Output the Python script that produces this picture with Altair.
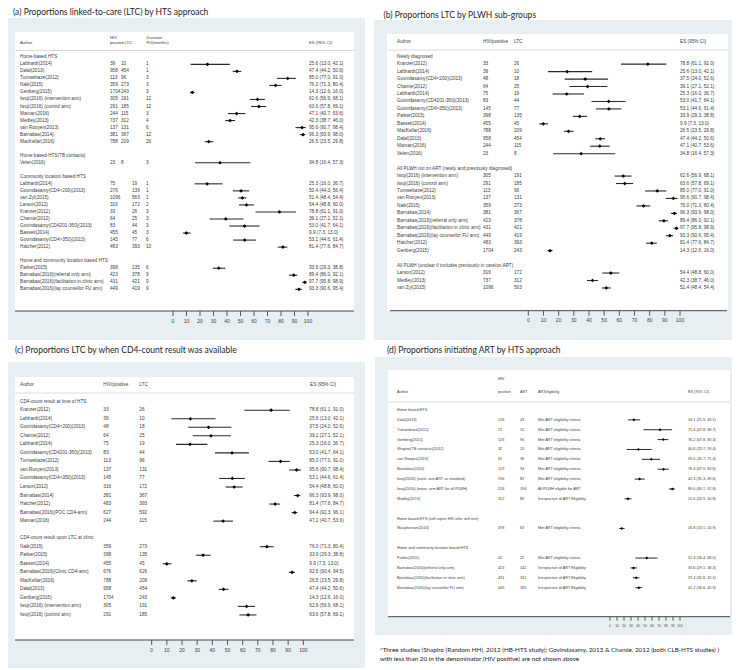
import altair as alt
import pandas as pd

# ---------------- (a) Proportions linked-to-care by HTS approach ----------------
A_SECTIONS = ["Home based HTS", "Home based-HTS(TB contacts)",
              "Community location based HTS", "Home and community location based HTS"]
A_SIZES = [12, 1, 10, 4]
A_AUTHOR = ["Labhardt(2014)", "Dalal(2013)", "Tumwebaze(2012)", "Naik(2015)", "Genberg(2015)",
            "Iwuji(2016) (intervention arm)", "Iwuji(2016) (control arm)", "Maman(2016)", "Medley(2013)",
            "van Rooyen(2013)", "Barnabas(2014)", "MacKellar(2016)",
            "Velen(2016)",
            "Labhardt(2014)", "Govindasamy(CD4<200)(2013)", "van Zyl(2015)", "Larson(2012)", "Kranzer(2012)",
            "Chamie(2012)", "Govindasamy(CD4201-350)(2013)", "Bassett(2014)", "Govindasamy(CD4>350)(2013)",
            "Hatcher(2012)",
            "Parker(2015)", "Barnabas(2016)(referral only arm)", "Barnabas(2016)(facilitation in clinic arm)",
            "Barnabas(2016)(lay counsellor FU arm)"]
A_HIV = [39, 958, 113, 359, 1704, 305, 291, 244, 737, 137, 381, 788, 23, 75, 276, 1096, 316, 33, 64, 83,
         455, 145, 483, 398, 423, 431, 449]
A_LTC = [10, 454, 96, 273, 243, 191, 185, 115, 312, 131, 367, 209, 8, 19, 139, 563, 172, 26, 25, 44,
         45, 77, 393, 135, 378, 421, 419]
A_DUR = [1, 1, 3, 3, 3, 12, 12, 3, 4, 6, 12, 26, 3, 1, 1, 1, 2, 3, 3, 3, 3, 6, 10, 6, 9, 9, 9]
A_ES = [25.6, 47.4, 85.0, 76.0, 14.3, 62.6, 63.6, 47.1, 42.3, 95.6, 96.3, 26.5, 34.8, 25.3, 50.4, 51.4,
        54.4, 78.8, 39.1, 53.0, 9.9, 53.1, 81.4, 33.9, 89.4, 97.7, 93.3]
A_LO = [13.0, 44.2, 77.0, 71.3, 12.6, 56.9, 57.8, 40.7, 38.7, 90.7, 93.9, 23.5, 16.4, 16.0, 44.3, 48.4,
        48.8, 61.1, 27.1, 41.7, 7.3, 44.6, 77.6, 29.3, 86.0, 95.8, 90.6]
A_HI = [42.1, 50.6, 91.0, 80.4, 16.0, 68.1, 69.1, 53.6, 46.0, 98.4, 98.0, 29.8, 57.3, 36.7, 56.4, 54.4,
        60.0, 91.0, 52.1, 64.1, 13.0, 61.4, 84.7, 38.8, 92.1, 98.9, 95.4]

# ---------------- (b) Proportions LTC by PLWH sub-groups ----------------
B_SECTIONS = ["Newly diagnosed", "All PLWH not on ART (newly and previously diagnosed)",
              "All PLWH (unclear if includes previously in care/on ART)"]
B_SIZES = [13, 11, 3]
B_AUTHOR = ["Kranzer(2012)", "Labhardt(2014)", "Govindasamy(CD4<200)(2013)", "Chamie(2012)", "Labhardt(2014)",
            "Govindasamy(CD4201-350)(2013)", "Govindasamy(CD4>350)(2013)", "Parker(2015)", "Bassett(2014)",
            "MacKellar(2016)", "Dalal(2013)", "Maman(2016)", "Velen(2016)",
            "Iwuji(2016) (intervention arm)", "Iwuji(2016) (control arm)", "Tumwebaze(2012)", "van Rooyen(2013)",
            "Naik(2015)", "Barnabas(2014)", "Barnabas(2016)(referral only arm)",
            "Barnabas(2016)(facilitation in clinic arm)", "Barnabas(2016)(lay counsellor FU arm)",
            "Hatcher(2012)", "Genberg(2015)",
            "Larson(2012)", "Medley(2013)", "van Zyl(2015)"]
B_HIV = [33, 39, 48, 64, 75, 83, 145, 398, 455, 788, 958, 244, 23, 305, 291, 113, 137, 359, 381, 423, 431,
         449, 483, 1704, 316, 737, 1096]
B_LTC = [26, 10, 18, 25, 19, 44, 77, 135, 45, 209, 454, 115, 8, 191, 185, 96, 131, 273, 367, 378, 421,
         419, 393, 243, 172, 312, 563]
B_ES = [78.8, 25.6, 37.5, 39.1, 25.3, 53.0, 53.1, 33.9, 9.9, 26.5, 47.4, 47.1, 34.8, 62.6, 63.6, 85.0,
        95.6, 76.0, 96.3, 89.4, 97.7, 93.3, 81.4, 14.3, 54.4, 42.3, 51.4]
B_LO = [61.1, 13.0, 24.0, 27.1, 16.0, 41.7, 44.6, 29.3, 7.3, 23.5, 44.2, 40.7, 16.4, 56.9, 57.8, 77.0,
        90.7, 71.3, 93.9, 86.0, 95.8, 90.6, 77.6, 12.6, 48.8, 38.7, 48.4]
B_HI = [91.0, 42.1, 52.6, 52.1, 36.7, 64.1, 61.4, 38.8, 13.0, 29.8, 50.6, 53.6, 57.3, 68.1, 69.1, 91.0,
        98.4, 80.4, 98.0, 92.1, 98.9, 95.4, 84.7, 16.0, 60.0, 46.0, 54.4]

# ---------------- (c) Proportions LTC by when CD4-count result was available ----------------
C_SECTIONS = ["CD4-count result at time of HTS", "CD4-count result upon LTC at clinic"]
C_SIZES = [14, 9]
C_AUTHOR = ["Kranzer(2012)", "Labhardt(2014)", "Govindasamy(CD4<200)(2013)", "Chamie(2012)", "Labhardt(2014)",
            "Govindasamy(CD4201-350)(2013)", "Tumwebaze(2012)", "van Rooyen(2013)", "Govindasamy(CD4>350)(2013)",
            "Larson(2012)", "Barnabas(2014)", "Hatcher(2012)", "Barnabas(2016)(POC CD4-arm)", "Maman(2016)",
            "Naik(2015)", "Parker(2015)", "Bassett(2014)", "Barnabas(2016)(Clinic CD4-arm)", "MacKellar(2016)",
            "Dalal(2013)", "Genberg(2015)", "Iwuji(2016) (intervention arm)", "Iwuji(2016) (control arm)"]
C_HIV = [33, 39, 48, 64, 75, 83, 113, 137, 145, 316, 381, 483, 627, 244, 359, 398, 455, 676, 788, 958,
         1704, 305, 291]
C_LTC = [26, 10, 18, 25, 19, 44, 96, 131, 77, 172, 367, 393, 592, 115, 273, 135, 45, 626, 209, 454,
         243, 191, 185]
C_ES = [78.8, 25.6, 37.5, 39.1, 25.3, 53.0, 85.0, 95.6, 53.1, 54.4, 96.3, 81.4, 94.4, 47.1, 76.0, 33.9,
        9.9, 92.6, 26.5, 47.4, 14.3, 62.6, 63.6]
C_LO = [61.1, 13.0, 24.0, 27.1, 16.0, 41.7, 77.0, 90.7, 44.6, 48.8, 93.9, 77.6, 92.3, 40.7, 71.3, 29.3,
        7.3, 90.4, 23.5, 44.2, 12.6, 56.9, 57.8]
C_HI = [91.0, 42.1, 52.6, 52.1, 36.7, 64.1, 91.0, 98.4, 61.4, 60.0, 98.0, 84.7, 96.1, 53.6, 80.4, 38.8,
        13.0, 94.5, 29.8, 50.6, 16.0, 68.1, 69.1]

# ---------------- (d) Proportions initiating ART by HTS approach ----------------
D_SECTIONS = ["Home based HTS", "Home based HTS (self-report HIV after self-test)",
              "Home and community location based HTS"]
D_SIZES = [9, 1, 4]
D_AUTHOR = ["Dalal(2013)", "Tumwebaze(2012)", "Genberg(2015)", "Shapiro(TB contacts)(2012)", "van Rooyen(2013)",
            "Barnabas(2014)", "Iwuji(2016) (contr. arm ART as standard)",
            "Iwuji(2016) (interv. arm ART for all PLWH)", "Medley(2013)",
            "Macpherson(2014)",
            "Parker(2015)", "Barnabas(2016)(referral only arm)", "Barnabas(2016)(facilitation in clinic arm)",
            "Barnabas(2016)(lay counsellor FU arm)"]
D_HIV = [126, 21, 126, 32, 61, 123, 196, 218, 312, 378, 42, 423, 431, 449]
D_ART = [43, 15, 96, 13, 36, 94, 83, 194, 80, 63, 22, 142, 161, 185]
D_ELIG = ["Met ART eligibility criteria", "Met ART eligibility criteria", "Met ART eligibility criteria",
          "Met ART eligibility criteria", "Met ART eligibility criteria", "Met ART eligibility criteria",
          "Met ART eligibility criteria", "All PLWH eligible for ART", "Irrespective of ART Eligibility",
          "Met ART eligibility criteria", "Met ART eligibility criteria", "Irrespective of ART Eligibility",
          "Irrespective of ART Eligibility", "Irrespective of ART Eligibility"]
D_ES = [34.1, 71.4, 76.2, 40.6, 59.0, 76.4, 42.3, 89.0, 25.6, 16.8, 52.4, 33.6, 37.4, 41.2]
D_LO = [25.9, 47.8, 67.8, 23.7, 45.7, 67.9, 35.3, 84.1, 20.9, 13.1, 36.4, 29.1, 32.8, 36.6]
D_HI = [43.1, 88.7, 83.3, 59.4, 71.4, 83.6, 49.6, 92.8, 30.8, 20.9, 68.0, 38.3, 42.1, 45.9]

TICKS = [0, 10, 20, 30, 40, 50, 60, 70, 80, 90, 100]

TITLES = ["(a)  Proportions linked-to-care (LTC) by HTS approach",
          "(b)  Proportions LTC by PLWH sub-groups",
          "(c)  Proportions LTC by when CD4-count result was available",
          "(d)  Proportions initiating ART by HTS approach"]
FOOTNOTE = ["*Three studies (Shapiro (Random HH), 2012 (HB-HTS study); Govindasamy, 2013 & Chamie, 2012 (both CLB-HTS studies) )",
            "with less than 20 in the denominator (HIV positive) are not shown above"]

# ---------------- helpers ----------------
ONE = pd.DataFrame({"k": [0]})
TXT = "#3c3c3c"
LIGHT = "#e8eff2"
TAB_FONT = "Liberation Sans"
TITLE_FONT = "Lato"


def fmt_int(v):
    return "" if pd.isna(v) else str(int(v))


def make_rows(sections, sizes, author, cols):
    recs = []
    r = 0
    i = 0
    for s, (name, k) in enumerate(zip(sections, sizes)):
        if s > 0:
            r += 1
        recs.append(dict(row=r, kind="group", sec=s, label=name))
        r += 1
        for _ in range(k):
            d = dict(row=r, kind="study", sec=s, label=author[i])
            for c, v in cols.items():
                d[c] = v[i]
            recs.append(d)
            r += 1
            i += 1
    df = pd.DataFrame(recs)
    for c in ["hiv", "ltc", "dur", "art"]:
        if c in df:
            df[c + "_t"] = df[c].map(fmt_int)
    if "elig" in df:
        df["elig"] = df["elig"].fillna("")
    df["es_t"] = [
        "" if k != "study" else f"{e:.1f} ({l:.1f}, {h:.1f})"
        for k, e, l, h in zip(df["kind"], df["es"], df["lo"], df["hi"])
    ]
    return df


def T(text, x, y, size, font=TAB_FONT, color=TXT, baseline="middle"):
    return alt.Chart(ONE).mark_text(align="left", baseline=baseline, fontSize=size, font=font,
                                    color=color).encode(x=alt.value(x), y=alt.value(y), text=alt.value(text))


def RECT(x1, x2, y1, y2, color):
    return alt.Chart(ONE).mark_rect(color=color).encode(
        x=alt.value(x1), x2=alt.value(x2), y=alt.value(y1), y2=alt.value(y2))


def HLINE(x1, x2, y, color, width):
    return alt.Chart(ONE).mark_rule(color=color, strokeWidth=width).encode(
        x=alt.value(x1), x2=alt.value(x2), y=alt.value(y))


def build_panel(df, cfg):
    ox, oy = cfg["origin"]
    W, H = cfg["size"]
    L = lambda v: v - ox
    Ly = lambda v: v - oy
    n = int(df["row"].max())
    xs = alt.Scale(domain=[0, 100], range=[L(cfg["x0"]), L(cfg["x100"])], nice=False, zero=False)
    ys = alt.Scale(domain=[0, n], range=[Ly(cfg["row0"]), Ly(cfg["row0"] + n * cfg["step"])],
                   nice=False, zero=False)
    lx1, lx2, ly1, ly2 = cfg["light"]
    wx1, wx2, wy1, wy2 = cfg["white"]
    layers = [
        RECT(max(0, L(lx1)), min(W, L(lx2)), Ly(ly1), Ly(ly2), LIGHT),
        RECT(L(wx1), min(W, L(wx2)), Ly(wy1), Ly(wy2), "white"),
        T(cfg["title"], L(cfg["title_xy"][0]), Ly(cfg["title_xy"][1]), cfg["title_size"],
          font=TITLE_FONT, color="#1e1e1e", baseline=cfg.get("title_baseline", "middle")),
        HLINE(L(wx1), min(W, L(wx2)), Ly(cfg["head_line"]), "#cfd3d6", 0.8),
    ]
    for text, x, y in cfg["header"]:
        layers.append(T(text, L(x), Ly(y), cfg["hfs"]))
    base = alt.Chart(df)
    Y = alt.Y("row:Q", scale=ys, axis=None)
    for field, x, filt in cfg["cols"]:
        c = base.mark_text(align="left", baseline="middle", fontSize=cfg["fs"], font=TAB_FONT,
                           color=TXT).encode(x=alt.value(L(x)), y=Y, text=alt.Text(f"{field}:N"))
        if filt:
            c = c.transform_filter(filt)
        layers.append(c)
    studies = base.transform_filter("datum.kind == 'study'")
    layers.append(studies.mark_rule(color="#2a2a2a", strokeWidth=cfg["lw"]).encode(
        x=alt.X("lo:Q", scale=xs, axis=None), x2="hi:Q", y=Y))
    layers.append(studies.mark_point(shape="diamond", filled=True, color="black", opacity=1,
                                     size=cfg["msize"]).encode(x=alt.X("es:Q", scale=xs, axis=None), y=Y))
    # axis
    ax_y = Ly(cfg["axis_y"])
    layers.append(HLINE(L(cfg["axis_x"][0]), min(W, L(cfg["axis_x"][1])), ax_y, "#444444", 1))
    tdf = pd.DataFrame({"t": TICKS})
    layers.append(alt.Chart(tdf).mark_rule(color="#444444", strokeWidth=0.9).encode(
        x=alt.X("t:Q", scale=xs, axis=None), y=alt.value(ax_y), y2=alt.value(ax_y + cfg["tick_len"])))
    layers.append(alt.Chart(tdf).mark_text(align="center", baseline="middle", fontSize=cfg["tick_fs"],
                                           font=TAB_FONT, color=TXT).encode(
        x=alt.X("t:Q", scale=xs, axis=None), y=alt.value(Ly(cfg["tick_lab_y"])), text="t:Q"))
    for text, x, y, size in cfg.get("extra", []):
        layers.append(T(text, L(x), Ly(y), size, font=TITLE_FONT, color="#222222"))
    return alt.layer(*layers).properties(width=W, height=H)


dfA = make_rows(A_SECTIONS, A_SIZES, A_AUTHOR,
                dict(hiv=A_HIV, ltc=A_LTC, dur=A_DUR, es=A_ES, lo=A_LO, hi=A_HI))
dfB = make_rows(B_SECTIONS, B_SIZES, B_AUTHOR, dict(hiv=B_HIV, ltc=B_LTC, es=B_ES, lo=B_LO, hi=B_HI))
dfC = make_rows(C_SECTIONS, C_SIZES, C_AUTHOR, dict(hiv=C_HIV, ltc=C_LTC, es=C_ES, lo=C_LO, hi=C_HI))
dfD = make_rows(D_SECTIONS, D_SIZES, D_AUTHOR,
                dict(hiv=D_HIV, art=D_ART, elig=D_ELIG, es=D_ES, lo=D_LO, hi=D_HI))

cfgA = dict(origin=(8, 8), size=(357, 332), light=(3, 365, 18, 340), white=(15, 354, 32, 311),
            title=TITLES[0], title_xy=(13, 8), title_size=8.5, title_baseline="top",
            head_line=50.5,
            header=[("Author", 20, 43.3), ("HIV", 110, 38.3), ("positive", 110, 43.3), ("LTC", 124.5, 43.3),
                    ("Duration", 146.5, 38.3), ("FU(months)", 146.5, 43.3), ("ES (95% CI)", 309, 43.3)],
            cols=[("label", 20, None), ("hiv_t", 110, None), ("ltc_t", 121, "datum.sec <= 1"),
                  ("ltc_t", 132, "datum.sec >= 2"), ("dur_t", 146, None), ("es_t", 309, None)],
            row0=57.3, step=7.03, x0=173, x100=308, fs=4.7, hfs=4.2, lw=1.1, msize=14,
            axis_y=311, axis_x=(15, 354), tick_len=5, tick_lab_y=321, tick_fs=5)

cfgB = dict(origin=(365, 8), size=(367, 332), light=(374, 740, 20, 340), white=(387, 728, 34, 310.7),
            title=TITLES[1], title_xy=(383.5, 15), title_size=8.5, head_line=50,
            header=[("Author", 397, 42), ("HIV/positive", 483, 42), ("LTC", 514, 42), ("ES (95% CI)", 680, 42)],
            cols=[("label", 397, None), ("hiv_t", 483, None), ("ltc_t", 514, None), ("es_t", 680, None)],
            row0=56.7, step=7.46, x0=528.3, x100=680, fs=4.7, hfs=4.7, lw=1.1, msize=14,
            axis_y=310.7, axis_x=(390, 727), tick_len=5, tick_lab_y=320, tick_fs=5)

cfgC = dict(origin=(8, 340), size=(357, 322), light=(0, 365, 362, 668), white=(15, 354, 377, 640),
            title=TITLES[2], title_xy=(15, 350), title_size=8.5, head_line=393,
            header=[("Author", 20, 385), ("HIV/positive", 103.3, 385), ("LTC", 139.3, 385),
                    ("ES (95% CI)", 310, 385)],
            cols=[("label", 20, None), ("hiv_t", 103.3, None), ("ltc_t", 139.3, None), ("es_t", 309.3, None)],
            row0=401.7, step=8.53, x0=151.7, x100=303.3, fs=4.7, hfs=4.7, lw=1.1, msize=14,
            axis_y=640, axis_x=(15, 354), tick_len=5, tick_lab_y=650, tick_fs=5)

cfgD = dict(origin=(365, 340), size=(367, 322), light=(375, 740, 357, 635), white=(388, 730, 370, 616.7),
            title=TITLES[3], title_xy=(387, 350), title_size=8.5, head_line=402,
            header=[("HIV", 498, 379), ("positive", 498, 392), ("Author", 397, 392), ("ART", 520, 392),
                    ("ARTeligibility", 538, 392), ("ES (95% CI)", 688, 392)],
            cols=[("label", 397, None), ("hiv_t", 498, None), ("art_t", 520, None), ("elig", 538, None),
                  ("es_t", 688, None)],
            row0=410, step=9.87, x0=610, x100=680, fs=3.8, hfs=3.8, lw=1, msize=9,
            axis_y=616.7, axis_x=(388, 730), tick_len=4, tick_lab_y=626, tick_fs=3.2,
            extra=[(FOOTNOTE[0], 380, 650, 6.3), (FOOTNOTE[1], 380, 659, 6.3)])

pA = build_panel(dfA, cfgA)
pB = build_panel(dfB, cfgB)
pC = build_panel(dfC, cfgC)
pD = build_panel(dfD, cfgD)

chart = alt.vconcat(
    alt.hconcat(pA, pB, spacing=0),
    alt.hconcat(pC, pD, spacing=0),
    spacing=0,
).properties(padding=0, background="white").configure_view(stroke=None)

chart.save("out.html", embed_options={"renderer": "svg", "actions": False})
